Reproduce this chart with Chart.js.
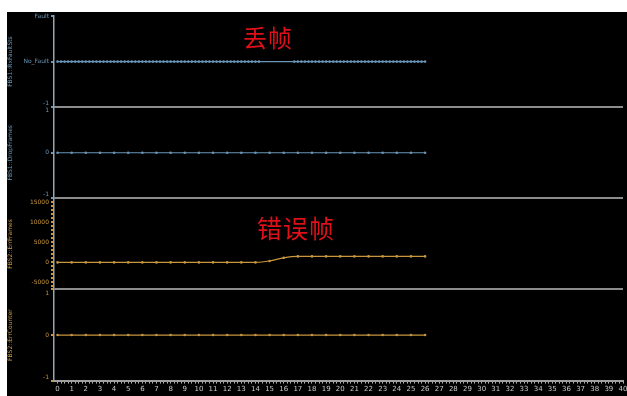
<!DOCTYPE html>
<html>
<head>
<meta charset="utf-8">
<script src="https://cdn.jsdelivr.net/npm/chart.js@4"></script>
<style>
  html,body{margin:0;padding:0;background:#fff;width:627px;height:396px;overflow:hidden}
  #wrap{position:absolute;left:7px;top:12px;width:620px;height:384px;background:#000}
  .note{position:absolute;color:#e0101a;font-family:"Noto Sans CJK SC",sans-serif;font-size:24px;line-height:24px;letter-spacing:1px}
</style>
</head>
<body>
<div id="wrap"><canvas id="c"></canvas></div>
<div class="note" style="left:243px;top:25px">丢帧</div>
<div class="note" style="left:257px;top:215px;font-size:25px">错误帧</div>
<script>
// trace data
const faultTimes = [
  0,0.25,0.5,0.75,1,1.25,1.5,1.75,2,2.25,2.5,2.75,3,3.25,3.5,3.75,4,4.25,4.5,4.75,
  5,5.25,5.5,5.75,6,6.25,6.5,6.75,7,7.25,7.5,7.75,8,8.25,8.5,8.75,9,9.25,9.5,9.75,
  10,10.25,10.5,10.75,11,11.25,11.5,11.75,12,12.25,12.5,12.75,13,13.25,13.5,13.75,14,14.25,
  // frames lost here
  16.75,17,17.25,17.5,17.75,18,18.25,18.5,18.75,19,19.25,19.5,19.75,20,20.25,20.5,20.75,
  21,21.25,21.5,21.75,22,22.25,22.5,22.75,23,23.25,23.5,23.75,24,24.25,24.5,24.75,25,25.25,25.5,25.75,26
];
const faultValues = faultTimes.map(()=>0); // No_Fault the whole time

const secTimes = [0,1,2,3,4,5,6,7,8,9,10,11,12,13,14,15,16,17,18,19,20,21,22,23,24,25,26];
const dropValues  = [0,0,0,0,0,0,0,0,0,0,0,0,0,0,0,0,0,0,0,0,0,0,0,0,0,0,0];
const errValues   = [0,0,0,0,0,0,0,0,0,0,0,0,0,0,0,350,1150,1500,1500,1500,1500,1500,1500,1500,1500,1500,1500];
const countValues = [0,0,0,0,0,0,0,0,0,0,0,0,0,0,0,0,0,0,0,0,0,0,0,0,0,0,0];

// axis ticks
const faultTicks = [-1,0,1];
const faultNames = {'1':'Fault','0':'No_Fault','-1':'-1'};
const unitTicks = [-1,0,1];
const errTicks = [-6000,-5000,-4000,-3000,-2000,-1000,0,1000,2000,3000,4000,5000,6000,7000,8000,
  9000,10000,11000,12000,13000,14000,15000,16000];
const errLabelled = [-5000,0,5000,10000,15000];
const xMin = -0.25, xMax = 40;

const BLUE='#6a96b8', ORANGE='#c8963e', SEP='#8c8c8c', AXIS='#9aa4ac';

function pts(xs,ys){ return xs.map((x,i)=>({x, y:ys[i]})) }

// top/bottom labels of stacked panels nudged apart with an empty line
function edgeLabel(text, value, scale){
  if(value===scale.max) return ['', text];
  if(value===scale.min) return [text, ''];
  return text;
}

function yScale(opts){
  return {
    type:'linear', position:'left', stack:'traces', stackWeight:1, offset:false,
    min:opts.min, max:opts.max,
    afterBuildTicks(s){ s.ticks = opts.ticks.map(v=>({value:v})); },
    afterFit(s){ s.width = 47; s.paddingTop = 0; s.paddingBottom = 0; },
    border:{color:AXIS, width:1.5},
    grid:{
      drawOnChartArea:true, lineWidth:2, tickLength:3, tickColor:opts.col,
      color:(c)=> (opts.sep && c.tick && c.tick.value===opts.max) ? SEP : 'rgba(0,0,0,0)'
    },
    title:{display:true, text:opts.title, color:opts.col, font:{size:6, family:'DejaVu Sans'}, padding:0},
    ticks:{color:opts.col, font:{size:6, family:'DejaVu Sans'}, padding:2, autoSkip:false, callback:opts.cb}
  };
}

function ds(data, axis, col, r){
  return {data, yAxisID:axis, borderColor:col, backgroundColor:col, borderWidth:1.2,
    pointRadius:r, pointBorderWidth:0, pointBackgroundColor:col, cubicInterpolationMode:'monotone'};
}

new Chart(document.getElementById('c'), {
  type:'line',
  data:{datasets:[
    ds(pts(faultTimes, faultValues), 'yFault', BLUE, 1.3),
    ds(pts(secTimes, dropValues), 'yDrop', BLUE, 1.3),
    ds(pts(secTimes, errValues), 'yErr', ORANGE, 1.3),
    ds(pts(secTimes, countValues), 'yCount', ORANGE, 1.3)
  ]},
  options:{
    responsive:true, maintainAspectRatio:false, animation:false,
    layout:{padding:{top:2,left:0,right:0,bottom:2}},
    plugins:{legend:{display:false}, tooltip:{enabled:false}},
    scales:{
      x:{
        type:'linear', min:xMin, max:xMax,
        afterBuildTicks(s){ s.ticks = s.ticks.filter(t=>t.value>=0); },
        afterFit(s){ s.paddingLeft = 0; s.paddingRight = 0; },
        border:{color:'#a0a0a0', width:2},
        grid:{drawOnChartArea:false, tickLength:3, tickColor:'#b0b0b0'},
        ticks:{stepSize:0.25, autoSkip:false, maxRotation:0, padding:1, color:'#c8c8c8',
          font:{size:7, family:'DejaVu Sans'},
          callback:(v)=> Number.isInteger(v) ? String(v) : ''}
      },
      // stacked panels on the left are laid out from the last one upward
      yCount: yScale({col:ORANGE, sep:true, title:'FBS2::ErrCounter', min:-1, max:1, ticks:unitTicks,
        cb:(v)=>edgeLabel(String(v), v, {min:-1,max:1})}),
      yErr: yScale({col:ORANGE, sep:true, title:'FBS2::ErrFrames', min:-6750, max:16000, ticks:errTicks,
        cb:(v)=> errLabelled.includes(v) ? String(v) : ''}),
      yDrop: yScale({col:BLUE, sep:true, title:'FBS1::DropFrames', min:-1, max:1, ticks:unitTicks,
        cb:(v)=>edgeLabel(String(v), v, {min:-1,max:1})}),
      yFault: yScale({col:BLUE, sep:false, title:'FBS1::RxFaultSts', min:-1, max:1, ticks:faultTicks,
        cb:(v)=> v===-1 ? [faultNames['-1'],''] : faultNames[String(v)]})
    }
  }
});
</script>
</body>
</html>
